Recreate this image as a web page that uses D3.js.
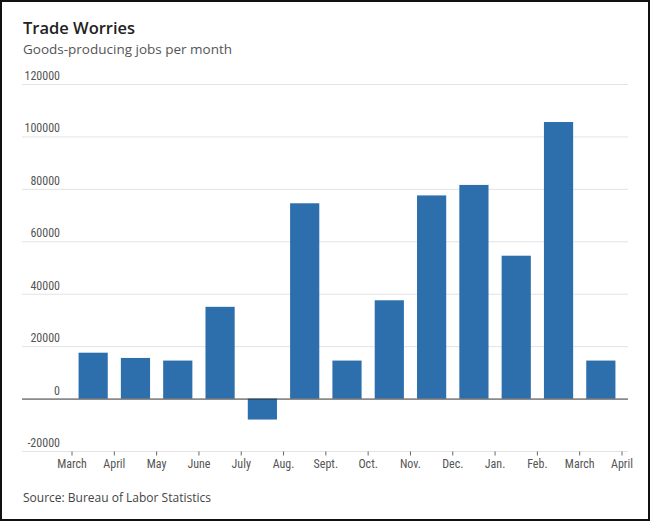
<!DOCTYPE html>
<html>
<head>
<meta charset="utf-8">
<script src="https://cdn.jsdelivr.net/npm/d3@7"></script>
<style>
  html, body { margin: 0; padding: 0; background: #fff; }
  svg { display: block; }
  .narrow { font-family: "Liberation Sans Narrow", "Roboto Condensed", "DejaVu Sans Condensed", sans-serif; font-stretch: condensed; }
</style>
</head>
<body>
<svg id="chart" width="650" height="521"></svg>
<script>
// Monatsnamen an den Achsen-Ticks (Beginn jedes Monats)
var tickLabels = ["March", "April", "May", "June", "July", "Aug.", "Sept.", "Oct.",
                  "Nov.", "Dec.", "Jan.", "Feb.", "March", "April"];
// Ein Balken pro Monat (März bis März)
var jobs = [17500, 15500, 14500, 35000, -8000, 74500, 14500, 37500, 77500, 81500, 54500, 105500, 14500];
var yTicks = [-20000, 0, 20000, 40000, 60000, 80000, 100000, 120000];

var svg = d3.select("#chart");
var W = 650, H = 521;

// Rahmen
svg.append("rect")
  .attr("x", 1).attr("y", 1)
  .attr("width", W - 2).attr("height", H - 2)
  .attr("fill", "#fff")
  .attr("stroke", "#111")
  .attr("stroke-width", 2);

// Titel
svg.append("text")
  .attr("x", 23).attr("y", 34)
  .attr("font-family", "Open Sans, sans-serif")
  .attr("font-weight", 600)
  .attr("font-size", 16.5)
  .attr("fill", "#222")
  .text("Trade Worries");

svg.append("text")
  .attr("x", 23).attr("y", 54)
  .attr("font-family", "Open Sans, sans-serif")
  .attr("font-size", 13.5)
  .attr("fill", "#555")
  .text("Goods-producing jobs per month");

var gridLeft = 22, gridRight = 628;

var y = d3.scaleLinear()
  .domain([-20000, 120000])
  .range([451, 84]);

// Tick-Positionen
var xTick = d3.scalePoint()
  .domain(d3.range(tickLabels.length))
  .range([72, 622]);

// Balken zwischen den Ticks
var xBar = d3.scaleBand()
  .domain(d3.range(jobs.length))
  .range([72, 622])
  .paddingInner(0.31)
  .paddingOuter(0.155);

// Gitternetz
svg.append("g")
  .selectAll("line")
  .data(yTicks.filter(function(d){ return d !== 0; }))
  .join("line")
  .attr("x1", gridLeft).attr("x2", gridRight)
  .attr("y1", function(d){ return y(d) + 0.5; })
  .attr("y2", function(d){ return y(d) + 0.5; })
  .attr("stroke", "#e3e3e3")
  .attr("stroke-width", 1);

// y-Beschriftung
svg.append("g")
  .attr("class", "narrow")
  .selectAll("text")
  .data(yTicks)
  .join("text")
  .attr("x", 60)
  .attr("y", function(d){ return y(d) - 4; })
  .attr("text-anchor", "end")
  .attr("font-size", 12)
  .attr("fill", "#555")
  .text(function(d){ return d; });

// Balken
svg.append("g")
  .selectAll("rect")
  .data(jobs)
  .join("rect")
  .attr("x", function(d, i){ return xBar(i); })
  .attr("width", xBar.bandwidth())
  .attr("y", function(d){ return y(Math.max(0, d)); })
  .attr("height", function(d){ return Math.abs(y(d) - y(0)); })
  .attr("fill", "#2d6fad");

// Nulllinie
svg.append("line")
  .attr("x1", gridLeft).attr("x2", gridRight)
  .attr("y1", y(0) + 0.5).attr("y2", y(0) + 0.5)
  .attr("stroke", "#333")
  .attr("stroke-width", 1);

// x-Achse
var xAxis = svg.append("g")
  .attr("transform", "translate(0," + (y(-20000) + 0.5) + ")");

xAxis.selectAll("line")
  .data(tickLabels)
  .join("line")
  .attr("x1", function(d, i){ return xTick(i); })
  .attr("x2", function(d, i){ return xTick(i); })
  .attr("y1", 0).attr("y2", 4)
  .attr("stroke", "#666");

xAxis.append("g")
  .attr("class", "narrow")
  .selectAll("text")
  .data(tickLabels)
  .join("text")
  .attr("x", function(d, i){ return xTick(i); })
  .attr("y", 16)
  .attr("text-anchor", "middle")
  .attr("font-size", 12)
  .attr("fill", "#555")
  .text(function(d){ return d; });

// Quelle
svg.append("text")
  .attr("x", 23).attr("y", 502)
  .attr("font-family", "Open Sans, sans-serif")
  .attr("font-size", 12)
  .attr("fill", "#444")
  .text("Source: Bureau of Labor Statistics");
</script>
</body>
</html>
